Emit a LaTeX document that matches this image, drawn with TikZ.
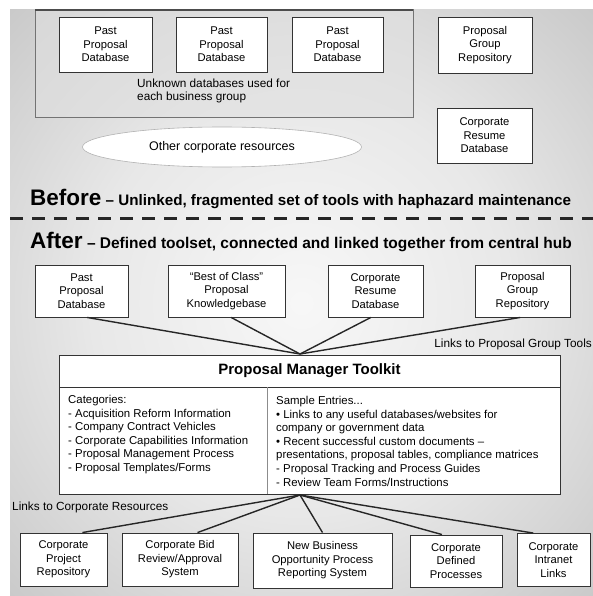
\documentclass[tikz,border=0pt]{standalone}
\usepackage{fontspec}
\setmainfont{Liberation Sans}
\usetikzlibrary{shapes.geometric,calc}
\pgfdeclareradialshading{bgshade}{\pgfpoint{0bp}{0bp}}{color(0bp)=(white!97!black); color(18bp)=(white!91!black); color(40bp)=(white!76!black); color(60bp)=(white!64!black)}
\begin{document}
\begin{tikzpicture}[x=1pt,y=-1pt,
  box/.style={draw=black!80, fill=white, line width=0.9pt, align=center,
    font=\fontsize{11.2}{13.5}\selectfont, inner sep=1pt},
  link/.style={line width=1.4pt, draw=black!85},
  note/.style={font=\fontsize{11.8}{13}\selectfont, align=left, inner sep=0pt},
  coltext/.style={font=\fontsize{11.4}{13.6}\selectfont, align=left, inner sep=0pt, anchor=north west}
]
\useasboundingbox (0,0) rectangle (593,596);
\fill[white] (0,0) rectangle (593,596);
\shade[shading=bgshade] (10,10) rectangle (593,596);

% ---------- Before ----------
\draw[draw=black!55, line width=1pt, fill=black!12, fill opacity=0.6] (35,10) rectangle (413,118);
\draw[draw=black!70, line width=1.8pt] (35,10) -- (413,10);
\node[box, minimum width=93pt, minimum height=55pt] (p1) at (105.5,44.5) {Past\\Proposal\\Database};
\node[box, minimum width=91pt, minimum height=55pt] (p2) at (221.5,44.5) {Past\\Proposal\\Database};
\node[box, minimum width=91pt, minimum height=55pt] (p3) at (337.5,44.5) {Past\\Proposal\\Database};
\node[box, minimum width=94pt, minimum height=56pt] (pg) at (485,45) {Proposal\\Group\\Repository};
\node[box, minimum width=95pt, minimum height=55pt] (cr) at (484.5,135.5) {Corporate\\Resume\\Database};
\node[note, anchor=west] (unk) at (137,91) {Unknown databases used for\\each business group};
\node[ellipse, fill=white, draw=black!30, line width=0.6pt, minimum width=279pt, minimum height=40pt,
  font=\fontsize{12.5}{14}\selectfont] (oth) at (222,147) {Other corporate resources};

\node[anchor=base west, inner sep=0pt] (before) at (30,205)
  {\fontsize{22.5}{24}\bfseries\selectfont Before\fontsize{15.2}{17}\selectfont\ -- Unlinked, fragmented set of tools with haphazard maintenance};
\coordinate (dl) at (10,218);
\coordinate (dr) at (593,218);
\draw[line width=3pt, draw=black!85, dash pattern=on 13pt off 9pt] (dl) -- (dr);
\node[anchor=base west, inner sep=0pt] (after) at (30,248)
  {\fontsize{22.5}{24}\bfseries\selectfont After\fontsize{15.5}{17}\selectfont\ -- Defined toolset, connected and linked together from central hub};

% ---------- After ----------
\node[box, minimum width=93pt, minimum height=52pt] (a1) at (81.5,291) {Past\\Proposal\\Database};
\node[box, minimum width=117pt, minimum height=52pt] (a2) at (226.5,291) {``Best of Class''\\Proposal\\Knowledgebase};
\node[box, minimum width=95pt, minimum height=52pt] (a3) at (375.5,291) {Corporate\\Resume\\Database};
\node[box, minimum width=95pt, minimum height=52pt] (a4) at (522.5,291) {Proposal\\Group\\Repository};
\coordinate (hubT) at (300,354);
\draw[link] (a1.-78) -- (hubT);
\draw[link] (a2.-80) -- (hubT);
\draw[link] (a3.-100) -- (hubT);
\draw[link] (a4.-95) -- (hubT);
\node[note, anchor=east] (lpg) at (592,344) {Links to Proposal Group Tools};

% toolkit
\node[draw=black!80, fill=white, line width=1pt, minimum width=501pt, minimum height=139pt, inner sep=0pt] (tk) at (309.5,424.5) {};
\coordinate (hl) at (59,387);
\coordinate (hr) at (560,387);
\draw[line width=1pt, draw=black!80] (hl) -- (hr);
\coordinate (ct) at (267,387);
\coordinate (cb) at (267,494);
\draw[line width=0.6pt, draw=black!45] (ct) -- (cb);
\node[font=\bfseries\fontsize{15}{17}\selectfont, inner sep=0pt] (tkt) at (309.5,371) {Proposal Manager Toolkit};
\node[coltext] (cat) at (68,395) {Categories:\\
- Acquisition Reform Information\\
- Company Contract Vehicles\\
- Corporate Capabilities Information\\
- Proposal Management Process\\
- Proposal Templates/Forms};
\node[coltext] (smp) at (276,396) {Sample Entries...\\
\textbullet\ Links to any useful databases/websites for\\
company or government data\\
\textbullet\ Recent successful custom documents --\\
presentations, proposal tables, compliance matrices\\
- Proposal Tracking and Process Guides\\
- Review Team Forms/Instructions};

% ---------- corporate resources ----------
\coordinate (hubB) at (300,495);
\node[note, anchor=west] (lcr) at (12,507) {Links to Corporate Resources};
\node[box, minimum width=87pt, minimum height=53pt] (b1) at (63.5,559.5) {Corporate\\Project\\Repository};
\node[box, minimum width=116pt, minimum height=53pt] (b2) at (180,559.5) {Corporate Bid\\Review/Approval\\System};
\node[box, minimum width=139pt, minimum height=55pt] (b3) at (322.5,560.5) {New Business\\Opportunity Process\\Reporting System};
\node[box, minimum width=92pt, minimum height=52pt] (b4) at (456,561) {Corporate\\Defined\\Processes};
\node[box, minimum width=73pt, minimum height=53pt] (b5) at (553.5,560) {Corporate\\Intranet\\Links};
\draw[link] (hubB) -- (b1.55);
\draw[link] (hubB) -- (b2.57);
\draw[link] (hubB) -- (b3.north);
\draw[link] (hubB) -- (b4.118);
\draw[link] (hubB) -- (b5.127);
\end{tikzpicture}
\end{document}
